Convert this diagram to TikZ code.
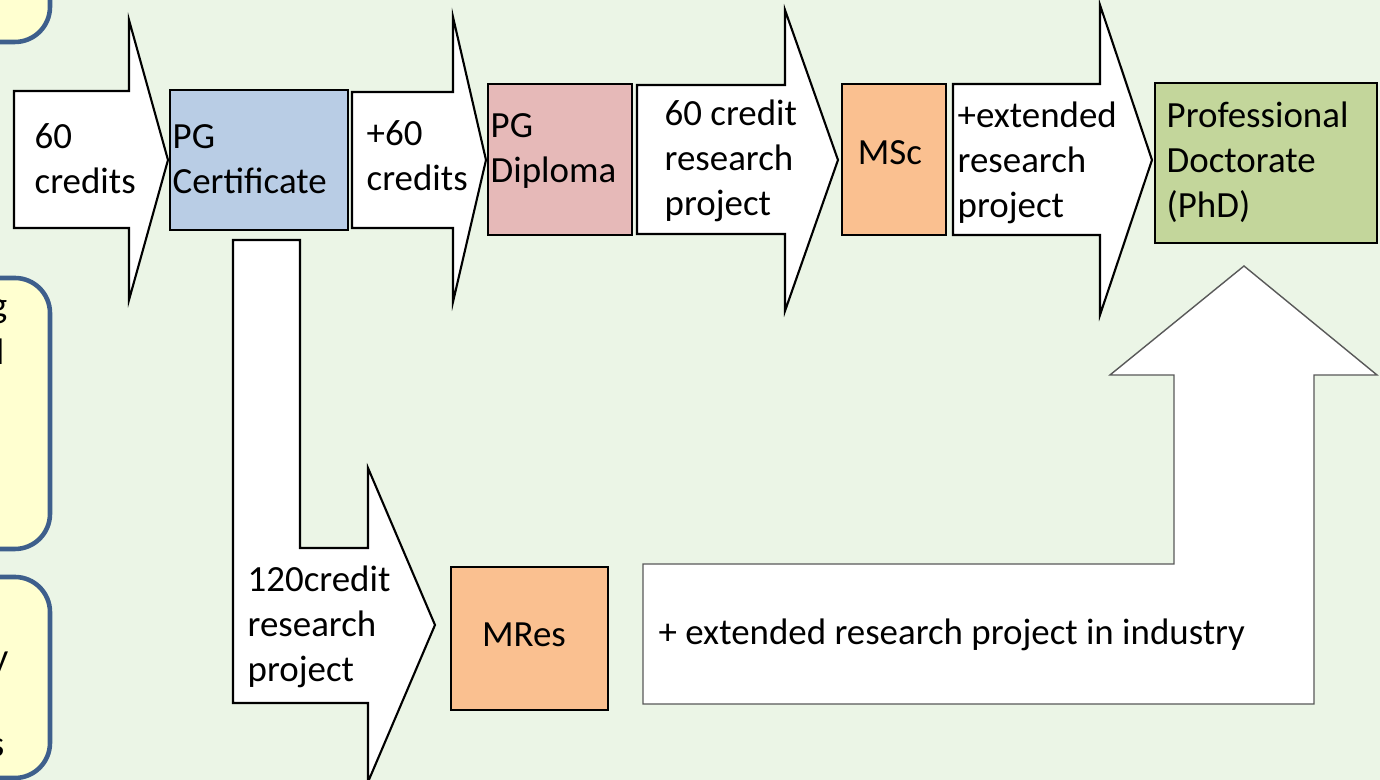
\documentclass[tikz,border=0pt]{standalone}
\usepackage{fontspec}
\setmainfont{Carlito}
\definecolor{bggreen}{HTML}{EBF5E6}
\definecolor{certblue}{HTML}{B9CDE5}
\definecolor{diplred}{HTML}{E6B9B8}
\definecolor{mastorange}{HTML}{FAC090}
\definecolor{docgreen}{HTML}{C3D69B}
\definecolor{noteyellow}{HTML}{FFFFD0}
\definecolor{noteblue}{HTML}{3E5F8C}
\begin{document}
\begin{tikzpicture}[x=0.1mm,y=-0.1mm,
  every node/.style={font=\fontsize{10.5}{12.8}\selectfont,inner sep=0pt,align=left},
  blockarrow/.style={draw=black,fill=white,line width=0.6pt},
  award/.style={draw=black,line width=0.6pt},
  notebox/.style={draw=noteblue,fill=noteyellow,line width=1.3pt,rounded corners=10pt}]
\useasboundingbox (0,0) rectangle (1380,780);
\fill[bggreen] (0,0) rectangle (1380,780);
% notes on the left, cut off by the page
\draw[notebox] (-300,-80) rectangle (50,42);
\draw[notebox] (-300,278) rectangle (50,549);
\draw[notebox] (-300,577) rectangle (50,778);
\node (n1) at (8,318) [anchor=base east] {g};
\node (n2) at (5,365) [anchor=base east] {l};
\node (n3) at (9,670) [anchor=base east] {y};
\node (n4) at (5,757) [anchor=base east] {s};
% top route
\draw[blockarrow] (14,91) -- (129,91) -- (129,20) -- (168,160) -- (129,300) -- (129,228) -- (14,228) -- cycle;
\node (c60) at (34,159) [anchor=west] {60\\credits};
\draw[award,fill=certblue] (170,90) rectangle (348,230);
\node (cert) at (172,159) [anchor=west] {PG\\Certificate};
\draw[blockarrow] (352,92) -- (453,92) -- (453,17) -- (486,160) -- (453,302) -- (453,228) -- (352,228) -- cycle;
\node (p60) at (366,156) [anchor=west] {+60\\credits};
\draw[award,fill=diplred] (488,84) rectangle (632,235);
\node (dipl) at (490,151) [anchor=west] {PG\\Diploma};
\draw[blockarrow] (637,85) -- (785,85) -- (785,10) -- (838,160) -- (785,311) -- (785,234) -- (637,234) -- cycle;
\node (proj60) at (664,161) [anchor=west] {60 credit\\research\\project};
\draw[award,fill=mastorange] (842,84) rectangle (946,235);
\node (msc) at (890,153) {MSc};
\draw[blockarrow] (953,84) -- (1100,84) -- (1100,5) -- (1152,160) -- (1100,315) -- (1100,235) -- (953,235) -- cycle;
\node (ext) at (957,163) [anchor=west] {+extended\\research\\project};
\draw[award,fill=docgreen] (1155,83) rectangle (1377,243);
\node (phd) at (1166,162) [anchor=west] {Professional\\Doctorate\\(PhD)};
% research route
\draw[blockarrow] (233,240) -- (300,240) -- (300,548) -- (368,548) -- (368,468) -- (435,625) -- (368,782) -- (368,703) -- (233,703) -- cycle;
\node (proj120) at (247,627) [anchor=west] {120credit\\research\\project};
\draw[award,fill=mastorange] (451,567) rectangle (608,710);
\node (mres) at (524,635) {MRes};
\draw[draw=black!65,fill=white,line width=0.4pt] (643,564) -- (1174,564) -- (1174,375) -- (1110,375) -- (1244,266) -- (1377,375) -- (1314,375) -- (1314,704) -- (643,704) -- cycle;
\node (ind) at (658,635) [anchor=west] {+ extended research project in industry};
\end{tikzpicture}
\end{document}
